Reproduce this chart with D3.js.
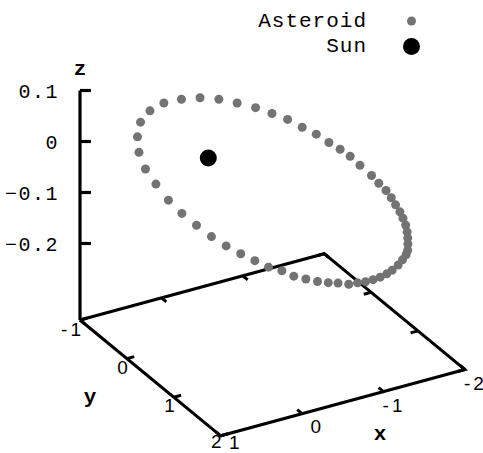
<!DOCTYPE html>
<html><head><meta charset="utf-8">
<script src="https://cdn.jsdelivr.net/npm/d3@7"></script>
<style>body{margin:0;background:#fff}svg{display:block}</style>
</head><body>
<script>
// ---- data (heliocentric coordinates) ----
const astX = [0.68,0.51,0.29,0.05,-0.20,-0.44,-0.66,-0.85,-1.03,-1.18,-1.32,-1.43,-1.54,-1.62,-1.70,-1.76,-1.80,-1.85,-1.87,-1.89,-1.89,-1.88,-1.87,-1.85,-1.82,-1.78,-1.73,-1.68,-1.62,-1.56,-1.47,-1.37,-1.25,-1.15,-1.04,-0.93,-0.82,-0.71,-0.59,-0.47,-0.35,-0.23,-0.11,0.01,0.11,0.24,0.35,0.46,0.57,0.67,0.75,0.82,0.87,0.88,0.87,0.80];
const astY = [-0.33,-0.56,-0.74,-0.86,-0.92,-0.94,-0.92,-0.86,-0.78,-0.69,-0.60,-0.48,-0.37,-0.24,-0.14,-0.03,0.11,0.27,0.39,0.51,0.62,0.73,0.84,0.94,1.05,1.15,1.25,1.34,1.44,1.51,1.59,1.67,1.75,1.81,1.86,1.90,1.93,1.95,1.97,1.95,1.95,1.93,1.89,1.84,1.76,1.70,1.60,1.49,1.37,1.23,1.05,0.86,0.66,0.41,0.17,-0.09];
const astZ = [0.046,0.050,0.049,0.045,0.037,0.028,0.017,0.006,-0.005,-0.016,-0.027,-0.038,-0.048,-0.058,-0.067,-0.075,-0.084,-0.094,-0.101,-0.107,-0.113,-0.118,-0.123,-0.127,-0.131,-0.135,-0.137,-0.140,-0.142,-0.143,-0.143,-0.143,-0.142,-0.140,-0.138,-0.135,-0.132,-0.128,-0.124,-0.118,-0.112,-0.106,-0.099,-0.092,-0.083,-0.075,-0.065,-0.055,-0.044,-0.032,-0.020,-0.008,0.005,0.018,0.029,0.039];
const sunX = [0], sunY = [0], sunZ = [0];
const xTicks = [1, 0, -1, -2];
const yTicks = [-1, 0, 1, 2];
const zTicks = [0.1, 0, -0.1, -0.2];
const legendLabels = ["Asteroid", "Sun"];
const axisTitles = ["x", "y", "z"];

// ---- layout ----
const W = 483, H = 453;
const svg = d3.select("body").append("svg").attr("width", W).attr("height", H);
const xRange = [1, -2], yRange = [-1, 2], zBase = -0.35, zTop = 0.1;
const xs = d3.scaleLinear().domain(xRange).range([0, 1]);
const ys = d3.scaleLinear().domain(yRange).range([0, 1]);
const zs = d3.scaleLinear().domain([zBase, zTop]).range([320, 90.5]);
const origin = [80, 0];
const uVec = [244.2, -66.3], vVec = [140.7, 115.8];
function P(x, y, z) {
  const u = xs(x), v = ys(y);
  return [origin[0] + u * uVec[0] + v * vVec[0], zs(z) + u * uVec[1] + v * vVec[1]];
}
const line = d3.line();
const mono = "'Liberation Mono','DejaVu Sans Mono',monospace";
const sans = "'Liberation Sans',Arial,sans-serif";

// base frame
const frame = [P(1,-1,zBase), P(1,2,zBase), P(-2,2,zBase), P(-2,-1,zBase), P(1,-1,zBase)];
svg.append("path").attr("d", line(frame)).attr("fill", "none")
  .attr("stroke", "#000").attr("stroke-width", 3).attr("stroke-linejoin", "miter");

// z axis
svg.append("path").attr("d", line([P(1,-1,zBase), P(1,-1,zTop)]))
  .attr("stroke", "#000").attr("stroke-width", 3.2).attr("fill", "none");
zTicks.forEach(t => {
  const p = P(1, -1, t);
  svg.append("line").attr("x1", p[0]).attr("y1", p[1]).attr("x2", p[0] + 11).attr("y2", p[1])
    .attr("stroke", "#000").attr("stroke-width", 3.2);
  svg.append("text").attr("x", p[0] - 21).attr("y", p[1] + 2).attr("text-anchor", "end")
    .attr("dominant-baseline", "central").attr("font-family", mono).attr("font-size", 20)
    .attr("letter-spacing", 1.5).text(t === 0 ? "0" : d3.format(".1f")(t));
});

// x ticks (front y=2 and back y=-1)
const tl = 0.035;
xTicks.forEach(t => {
  [[2, -1], [-1, 1]].forEach(([yy, dir]) => {
    const a = P(t, yy, zBase), b = P(t, yy + dir * tl * 3, zBase);
    svg.append("line").attr("x1", a[0]).attr("y1", a[1]).attr("x2", b[0]).attr("y2", b[1])
      .attr("stroke", "#000").attr("stroke-width", 3);
  });
});
// y ticks (left x=1 and right x=-2)
yTicks.forEach(t => {
  [[1, -1], [-2, 1]].forEach(([xx, dir]) => {
    const a = P(xx, t, zBase), b = P(xx + dir * 0.03 * 3, t, zBase);
    svg.append("line").attr("x1", a[0]).attr("y1", a[1]).attr("x2", b[0]).attr("y2", b[1])
      .attr("stroke", "#000").attr("stroke-width", 3);
  });
});

function numLabel(sel, v) {
  const s = String(v);
  if (s[0] === "-") {
    sel.append("tspan").text("-");
    sel.append("tspan").attr("dx", 3).text(s.slice(1));
  } else sel.text(s);
}
// y tick labels
yTicks.forEach(t => {
  const p = P(1, t, zBase);
  const tx = svg.append("text").attr("x", p[0] + 1).attr("y", Math.min(p[1] + 8.5, 441))
    .attr("text-anchor", "end").attr("dominant-baseline", "central")
    .attr("font-family", sans).attr("font-size", 19);
  numLabel(tx, t);
});
// x tick labels
xTicks.forEach(t => {
  const p = P(t, 2, zBase);
  const tx = svg.append("text").attr("x", p[0] + 19).attr("y", Math.min(p[1] + 13, 442))
    .attr("text-anchor", "end").attr("dominant-baseline", "central")
    .attr("font-family", sans).attr("font-size", 19);
  numLabel(tx, t);
});

// axis titles
const titlePos = {x: [380, 440], y: [90, 403], z: [80, 75]};
axisTitles.forEach(k => {
  svg.append("text").attr("x", titlePos[k][0]).attr("y", titlePos[k][1])
    .attr("text-anchor", "middle").attr("font-family", mono).attr("font-weight", "bold")
    .attr("font-size", 21).text(k);
});

// data
const gray = "#737373";
svg.append("g").selectAll("circle").data(astX.map((x, i) => P(x, astY[i], astZ[i])))
  .join("circle").attr("cx", d => d[0]).attr("cy", d => d[1]).attr("r", 4.5).attr("fill", gray);
svg.append("g").selectAll("circle").data(sunX.map((x, i) => P(x, sunY[i], sunZ[i])))
  .join("circle").attr("cx", d => d[0]).attr("cy", d => d[1]).attr("r", 8.5).attr("fill", "#000");

// legend
const leg = [{y: 21, r: 4.5, c: gray}, {y: 46.5, r: 8.5, c: "#000"}];
legendLabels.forEach((lab, i) => {
  svg.append("text").attr("x", 367).attr("y", leg[i].y).attr("text-anchor", "end")
    .attr("dominant-baseline", "central").attr("font-family", mono).attr("font-size", 21)
    .attr("letter-spacing", 1).text(lab);
  svg.append("circle").attr("cx", 411.5).attr("cy", leg[i].y).attr("r", leg[i].r).attr("fill", leg[i].c);
});
</script>
</body></html>
